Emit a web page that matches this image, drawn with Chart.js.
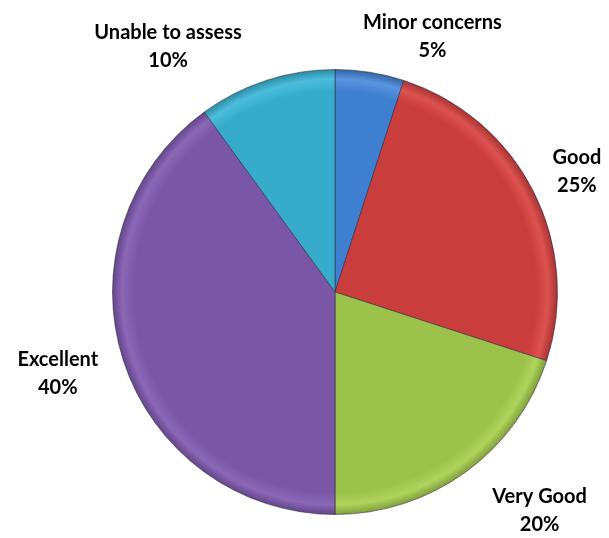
<!DOCTYPE html>
<html>
<head>
<meta charset="utf-8">
<script src="https://cdn.jsdelivr.net/npm/chart.js@4"></script>
<style>
  html, body { margin: 0; padding: 0; background: #fff; }
  #wrap { width: 609px; height: 538px; }
</style>
</head>
<body>
<div id="wrap"><canvas id="myChart" width="609" height="538"></canvas></div>
<script>
const labels = ['Minor concerns', 'Good', 'Very Good', 'Excellent', 'Unable to assess'];
const values = [5, 25, 20, 40, 10];

const baseColors = ['#3f7fcf', '#c93d3c', '#9cc24c', '#7a57a6', '#36acca'];
const lightColors = ['#5a95de', '#dc5250', '#afd35c', '#8b68b6', '#4cbddb'];
const darkColors = ['#2f62a3', '#a43130', '#7d9c3a', '#614488', '#2a8aa3'];

// label nudges from the radial anchor (px)
const labelNudge = [[55, 13], [0, 3], [45, -1], [-19, -2], [-83, 13]];

function sliceFill(ctx) {
  const chart = ctx.chart;
  const area = chart.chartArea;
  if (!area) return baseColors[ctx.dataIndex];
  const cx = (area.left + area.right) / 2;
  const cy = (area.top + area.bottom) / 2;
  const r = Math.min(area.right - area.left, area.bottom - area.top) / 2;
  const g = chart.ctx.createRadialGradient(cx, cy, 0, cx, cy, r);
  const i = ctx.dataIndex;
  g.addColorStop(0, baseColors[i]);
  g.addColorStop(0.9, baseColors[i]);
  g.addColorStop(0.955, lightColors[i]);
  g.addColorStop(1, darkColors[i]);
  return g;
}

const outsideLabels = {
  id: 'outsideLabels',
  afterDatasetsDraw(chart) {
    const ctx = chart.ctx;
    const meta = chart.getDatasetMeta(0);
    const total = values.reduce((a, b) => a + b, 0);
    ctx.save();
    ctx.fillStyle = '#000';
    ctx.font = 'bold 20px Lato, "Open Sans", sans-serif';
    ctx.textAlign = 'center';
    ctx.textBaseline = 'middle';
    meta.data.forEach((arc, i) => {
      const mid = (arc.startAngle + arc.endAngle) / 2;
      const r = arc.outerRadius + 49;
      const x = arc.x + Math.cos(mid) * r + labelNudge[i][0];
      const y = arc.y + Math.sin(mid) * r + labelNudge[i][1];
      const pct = Math.round(values[i] / total * 100) + '%';
      ctx.fillText(labels[i], x, y - 14);
      ctx.fillText(pct, x, y + 14);
    });
    ctx.restore();
  }
};

const ctx = document.getElementById('myChart').getContext('2d');
const myChart = new Chart(ctx, {
  type: 'pie',
  data: {
    labels: labels,
    datasets: [{
      data: values,
      backgroundColor: sliceFill,
      borderColor: 'rgba(40, 40, 60, 0.55)',
      borderWidth: 1
    }]
  },
  options: {
    responsive: false,
    animation: false,
    layout: { padding: { left: 112, right: 51, top: 69, bottom: 23 } },
    plugins: {
      legend: { display: false },
      tooltip: { enabled: false }
    }
  },
  plugins: [outsideLabels]
});
</script>
</body>
</html>
